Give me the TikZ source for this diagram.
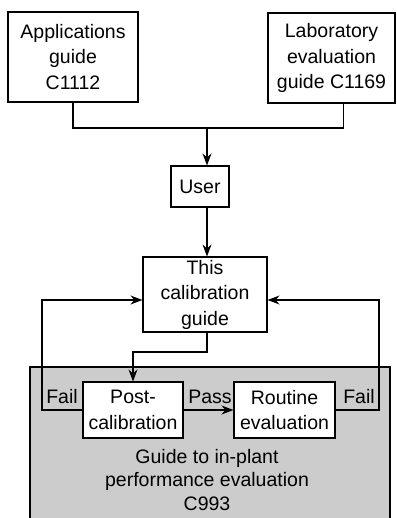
\documentclass[tikz,border=0pt]{standalone}
\usepackage{fontspec}
\setmainfont{Liberation Sans}
\usetikzlibrary{arrows.meta}

\begin{document}
\begin{tikzpicture}[x=1pt,y=-1pt,
  every node/.style={font=\fontsize{19.5}{25.5}\selectfont,align=center,inner sep=0pt},
  box/.style={draw=black,line width=1.1pt,fill=white},
  link/.style={draw=black,line width=1.1pt},
  arr/.style={link,-{Stealth[length=12pt,width=9pt]}}]
\useasboundingbox (0,0) rectangle (396,518);
% shaded in-plant area
\fill [black!20] (30,367) rectangle (390,518);
\draw [link] (30,518) |- (390,367) -- (390,518);
\node [font=\fontsize{19.5}{23.5}\selectfont] (inplant) at (207,480) {Guide to in-plant\\performance evaluation\\C993};
% boxes
\node [box,minimum width=130pt,minimum height=90pt] (apps) at (73,57) {Applications\\guide\\C1112};
\node [box,minimum width=127pt,minimum height=90pt] (lab) at (331.5,58) {Laboratory\\evaluation\\guide C1169};
\node [box,minimum width=58pt,minimum height=41pt] (user) at (200,186.5) {User};
\node [box,minimum width=124pt,minimum height=75pt] (guide) at (205,294.5) {This\\calibration\\guide};
\node [box,minimum width=100pt,minimum height=56pt] (postcal) at (133,410) {Post-\\calibration};
\node [box,minimum width=101pt,minimum height=56pt] (routine) at (284.5,410) {Routine\\evaluation};
\coordinate (join) at (207,128);
\coordinate (bend) at (207,352);
\coordinate (leftloop) at (42,410);
\coordinate (rightloop) at (379,410);
% connectors
\draw [link] (apps.south) |- (join);
\draw [link] ([xshift=12pt]lab.south) |- (join);
\draw [arr] (join) -- (join |- user.north);
\draw [arr] (join |- user.south) -- (join |- guide.north);
\draw [arr] (join |- guide.south) -- (bend) -| (postcal.north);
\draw [arr] (postcal.west) -- (leftloop) |- ([yshift=-5.5pt]guide.west);
\draw [arr] (routine.east) -- (rightloop) |- ([yshift=-5.5pt]guide.east);
\draw [arr] (postcal.east) -- (routine.west);
% labels
\node (faill) at (62,397) {Fail};
\node (failr) at (359,397) {Fail};
\node (pass) at (210,397) {Pass};
\end{tikzpicture}
\end{document}
